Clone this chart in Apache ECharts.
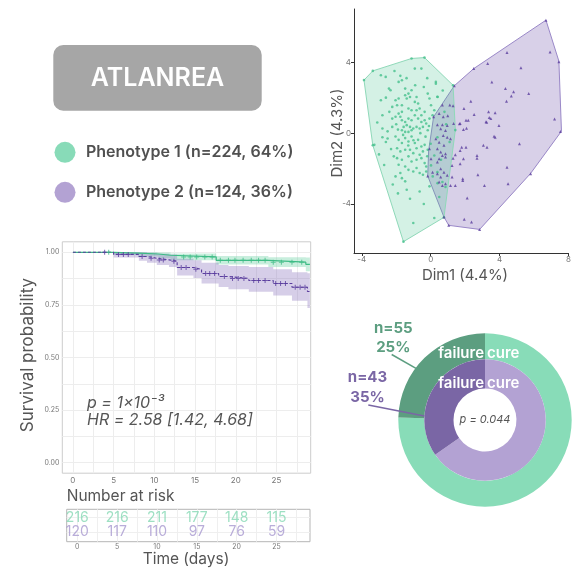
<!DOCTYPE html>
<html><head><meta charset="utf-8">
<script src="https://cdn.jsdelivr.net/npm/echarts@6.0.0/dist/echarts.min.js"></script>
<style>html,body{margin:0;padding:0;background:#fff}#c{width:574px;height:569px}</style>
</head><body><div id="c"></div>
<script>
const FONT = 'Inter, "Noto Sans", sans-serif';
// ---------- header / legend ----------
const titleText = 'ATLANREA';
const groupNames = ['Phenotype 1', 'Phenotype 2'];
const groupN = [224, 124];
const groupPct = [64, 36];
const colLight = ['#88dbb8', '#b3a2d3'];
const colDark = ['#5c9e80', '#7a66a5'];

// ---------- PCA scatter ----------
const pcaXName = 'Dim1 (4.4%)';
const pcaYName = 'Dim2 (4.3%)';
const pcaTicksX = [-4, 0, 4, 8];
const pcaTicksY = [-4, 0, 4];
const pcaGreen = [
 [-2.89,3.26],[-2.61,3.17],[-1.76,3.23],[-1.67,2.98],[-0.92,3.64],[-0.54,3.64],[-1.86,2.89],[-2.42,2.51],[-2.33,2.42],[-1.48,2.51],
 [-1.11,2.42],[-1.29,2.23],[-1.20,2.04],[-1.39,1.95],[-1.48,2.14],[-1.86,1.95],[-2.04,1.85],[-1.95,1.57],[-1.67,1.57],[-2.23,1.48],
 [-0.92,1.76],[-0.73,1.67],[-0.64,1.39],[-0.35,1.20],[-0.17,2.23],[-0.07,1.95],[0.40,2.04],[0.30,2.79],[-2.89,1.85],[-2.80,1.01],
 [-2.23,0.82],[-2.04,0.92],[-1.76,0.92],[-1.67,0.73],[-1.48,0.63],[-1.29,0.82],[-1.11,0.73],[-0.92,1.01],[-0.73,0.82],[-0.54,0.63],
 [-0.35,0.73],[-1.39,0.45],[-1.20,0.35],[-1.57,0.35],[-1.01,0.26],[-1.67,0.16],[-1.48,0.07],[-1.29,0.07],[-1.11,0.16],[-0.82,0.35],
 [-0.64,0.26],[-0.45,0.35],[-0.26,0.54],[-0.17,0.16],[-0.07,0.82],[-2.23,0.35],[-2.80,0.26],[-1.86,1.10],[-1.67,1.20],[-1.29,1.39],
 [-1.11,1.29],[-0.82,1.29],[-0.54,1.01],[0.02,1.57],[0.21,1.29],[-0.82,2.04],
 [-2.80,-0.23],[-3.27,-0.66],[-2.04,-0.19],[-1.86,-0.38],[-1.67,-0.56],[-1.48,-0.28],[-1.29,-0.47],[-1.11,-0.19],[-0.92,-0.56],[-0.73,-0.38],
 [-0.54,-0.75],[-0.35,-0.66],[-1.95,-0.85],[-1.76,-1.03],[-1.48,-0.94],[-1.20,-0.94],[-1.01,-1.13],[-0.82,-0.85],[-0.64,-1.22],[-0.45,-1.03],
 [-0.17,-0.94],[-2.14,-1.31],[-1.95,-1.41],[-1.67,-1.50],[-1.29,-1.31],[-1.11,-1.60],[-0.82,-1.50],[-0.54,-1.41],[-0.35,-1.69],[-1.48,-1.88],
 [-1.29,-2.07],[-1.01,-2.16],[-0.82,-1.97],[-0.64,-2.25],[-0.45,-2.35],[-1.76,-2.25],[-2.04,-2.44],[-1.67,-2.54],[-1.48,-2.72],[-0.26,-2.16],
 [0.12,-2.44],[0.40,-2.82],[-0.07,-3.00],[-1.39,-3.19],[-0.64,-3.29],[-1.01,-5.07],[0.21,-4.79],[-0.26,-1.88],[-1.86,-1.78],
 [0.30,2.89],[0.39,2.05],[0.11,1.01],[0.39,-0.23],[0.21,-1.26],[0.02,-1.82],[0.39,-2.20],[0.68,-2.76],[0.86,-3.04],[0.90,0.50],
 [1.10,-0.50],[0.60,-1.50],[0.80,1.20],
 [-2.50,0.10],[-2.60,-0.50],[-2.30,-0.90],[-2.40,1.20],[-2.60,2.00],[-3.10,0.60],[-3.00,-1.20],[-2.70,-1.80],[-2.20,-2.90],[-1.90,-3.40],
 [-1.20,-3.70],[-0.40,-4.00],[0.50,-3.60],[-0.20,3.10],[-1.40,3.10],[-2.10,3.50],[-0.90,2.70],[-0.40,2.60],[0.70,2.40],[-0.10,0.40],
 [-0.30,-0.20],[0.00,-0.60],[-2.00,0.50],[-2.50,-0.30],[-1.90,0.20],[-1.00,-0.40],[-0.60,0.00],[-1.60,-0.10],[-1.30,-0.70],[-0.20,-1.30],
 [-3.87,2.99],[-3.36,3.51],[-1.11,4.21],[-0.36,4.26],[1.30,2.70],[1.43,0.17],[0.77,-4.75],[-1.58,-6.12],[-3.36,-0.68]
];
const pcaPurple = [
 [6.69,6.37],[6.93,4.58],[7.44,4.02],[4.43,4.54],[3.31,3.92],[2.50,3.64],[1.37,2.67],[5.24,3.68],[3.55,2.89],[4.34,2.52],
 [4.81,2.33],[4.68,2.10],[4.40,1.80],[5.69,2.24],[2.33,1.80],[1.93,1.39],[2.52,1.05],[3.36,1.20],[3.74,1.15],[3.40,0.88],
 [3.49,0.83],[2.05,0.73],[2.18,0.73],[1.71,0.55],[1.33,0.55],[0.68,1.58],[1.11,1.58],[1.30,1.54],[0.49,1.11],[0.99,0.98],
 [0.73,0.92],[7.19,0.79],[3.21,0.64],
 [0.39,0.47],[0.68,0.47],[0.96,0.43],[0.58,0.24],[0.86,0.15],[1.67,0.53],[1.90,0.21],[2.08,0.28],[3.25,0.62],[3.96,0.43],
 [3.68,-0.17],[3.74,-0.23],[5.15,-0.60],[3.06,-0.69],[3.27,-0.79],[1.80,-0.79],[2.05,-0.79],[1.71,-0.98],[1.43,-1.22],[1.30,-1.41],
 [2.69,-1.26],[2.69,-1.41],[1.90,-1.45],[1.71,-1.73],[0.73,-0.13],[0.96,-0.23],[1.15,-0.32],[0.30,-0.32],[0.49,-0.51],[0.77,-0.69],
 [0.39,-0.88],[0.58,-1.07],[0.86,-1.16],[0.68,-1.26],[0.49,-1.45],[0.39,-1.63],[0.86,-1.35],[1.24,-1.82],[0.58,-2.01],[0.77,-2.20],
 [0.39,-2.29],[0.58,-2.48],[0.96,-2.38],[0.49,-2.76],[0.68,-2.95],[0.86,-2.85],[1.15,-2.95],[1.43,-2.95],[1.86,-2.57],[1.86,-2.67],
 [1.24,-2.48],[2.74,-2.35],[3.12,-2.95],[4.43,-1.92],[4.49,-2.85],[5.80,-2.29],[2.12,-3.66],[1.95,-4.86],[2.37,-5.01],[1.05,-5.20],
 [2.84,-5.43],[7.53,0.09],[0.02,-1.45],[0.11,-2.20],[-0.07,-0.88],[0.17,0.92],[-0.17,-2.42],[0.77,-4.73]
];
const hullGreen = [[-3.87,2.99],[-3.36,3.51],[-1.11,4.21],[-0.36,4.26],[1.30,2.70],[1.43,0.17],[0.77,-4.75],[-1.58,-6.12],[-3.36,-0.68]];
const hullPurple = [[6.69,6.37],[7.44,4.06],[7.59,0.11],[5.80,-2.27],[2.84,-5.43],[1.05,-5.20],[0.77,-4.73],[-0.17,-2.42],[-0.12,-1.00],[0.17,0.92],[1.37,2.67],[2.50,3.64]];

// ---------- Kaplan-Meier ----------
const kmXName = 'Time (days)';
const kmYName = 'Survival probability';
const kmTimeTicks = [0, 5, 10, 15, 20, 25];
const kmProbTicks = [0, 0.25, 0.5, 0.75, 1];
const kmTimeGrid = [0, 2.5, 5, 7.5, 10, 12.5, 15, 17.5, 20, 22.5, 25, 27.5];
const kmProbGrid = [0, 0.125, 0.25, 0.375, 0.5, 0.625, 0.75, 0.875, 1];
const kmEnd = 29.1;
const g1Time  = [0, 5.0, 8.0, 10.5, 12.0, 17.6, 24.0, 28.6];
const g1Surv  = [1, 0.996, 0.992, 0.986, 0.978, 0.962, 0.953, 0.943];
const g1Lower = [1, 0.987, 0.980, 0.972, 0.962, 0.942, 0.930, 0.910];
const g1Upper = [1, 1, 1, 0.999, 0.994, 0.983, 0.977, 0.975];
const g2Time  = [0, 5.0, 8.1, 9.1, 10.3, 11.8, 12.8, 14.8, 15.8, 17.9, 19.1, 21.6, 24.6, 26.9, 28.8];
const g2Surv  = [1, 0.990, 0.980, 0.972, 0.964, 0.958, 0.928, 0.919, 0.899, 0.885, 0.876, 0.866, 0.852, 0.834, 0.814];
const g2Lower = [1, 0.975, 0.960, 0.950, 0.940, 0.930, 0.890, 0.878, 0.852, 0.835, 0.825, 0.812, 0.795, 0.770, 0.735];
const g2Upper = [1, 1, 1, 0.998, 0.993, 0.990, 0.970, 0.962, 0.950, 0.940, 0.935, 0.930, 0.920, 0.905, 0.900];
const g1Censor = [4.4, 13.6, 14.4, 15.2, 16.2, 17.1, 18.1, 19.1, 19.9, 20.9, 21.9, 22.8, 23.6, 24.6, 25.6, 26.9, 28.1];
const g2Censor = [3.9, 5.6, 6.2, 6.8, 8.5, 9.6, 10.6, 11.1, 12.4, 13.3, 13.9, 15.1, 16.3, 16.8, 17.4, 18.6, 19.6, 20.3, 21.0, 22.2, 22.8, 23.6, 24.9, 25.5, 26.1, 27.3, 27.9, 28.5];
const pText = 'p = 1×10⁻³';
const hrText = 'HR = 2.58 [1.42, 4.68]';

// ---------- number at risk ----------
const riskTitle = 'Number at risk';
const riskTimes = [0, 5, 10, 15, 20, 25];
const risk1 = [216, 216, 211, 177, 148, 115];
const risk2 = [120, 117, 110, 97, 76, 59];

// ---------- outcome donut ----------
const outcomeNames = ['cure', 'failure'];
const outcome1 = [169, 55];
const outcome2 = [81, 43];
const donutP = 'p = 0.044';

// ---------- helpers ----------
function stepLine(T, S, end) {
  return T.map((t, i) => [t, S[i]]).concat([[end, S[S.length - 1]]]);
}
function stepBand(T, L, U, end) {
  const top = [], bot = [];
  for (let i = 0; i < T.length; i++) {
    const t1 = i + 1 < T.length ? T[i + 1] : end;
    top.push([T[i], U[i]], [t1, U[i]]);
    bot.push([T[i], L[i]], [t1, L[i]]);
  }
  return top.concat(bot.reverse());
}
function survAt(T, S, t) {
  let v = S[0];
  for (let i = 0; i < T.length; i++) if (T[i] <= t) v = S[i];
  return v;
}
function polySeries(pts, xi, fill, stroke, z) {
  return {
    type: 'custom', xAxisIndex: xi, yAxisIndex: xi, silent: true, z: z,
    data: [pts[0]],
    renderItem: function (params, api) {
      return { type: 'polygon', shape: { points: pts.map(p => api.coord(p)) },
        style: { fill: fill, stroke: stroke, lineWidth: stroke ? 1 : 0 } };
    }
  };
}
const plusPath = 'path://M4,0H6V4H10V6H6V10H4V6H0V4H4Z';

const chart = echarts.init(document.getElementById('c'), null, { renderer: 'canvas' });

function txt(x, y, text, font, fill, align, valign, extra) {
  return Object.assign({
    type: 'text', x: x, y: y, z: 100,
    style: { text: text, font: font, fill: fill, align: align, textAlign: align,
      verticalAlign: valign, textVerticalAlign: valign }
  }, extra || {});
}

const pct1 = Math.round(outcome1[1] / (outcome1[0] + outcome1[1]) * 100);
const pct2 = Math.round(outcome2[1] / (outcome2[0] + outcome2[1]) * 100);

const option = {
  animation: false,
  backgroundColor: '#fff',
  textStyle: { fontFamily: FONT },
  grid: [
    { left: 354, top: 9, width: 221, height: 244 },
    { left: 62.3, top: 241.8, width: 248.4, height: 231.4, show: true, borderColor: '#cccccc', borderWidth: 1 },
    { left: 66.7, top: 509.3, width: 243.3, height: 32.4, show: true, borderColor: '#b5b5b5', borderWidth: 1 }
  ],
  xAxis: [
    { type: 'value', gridIndex: 0, min: -4.45, max: 8.0,
      axisLine: { show: true, onZero: false, lineStyle: { color: '#333', width: 1 } },
      axisTick: { show: true, length: 3, customValues: pcaTicksX, lineStyle: { color: '#333' } },
      axisLabel: { customValues: pcaTicksX, fontSize: 8, color: '#777', margin: 3, fontFamily: FONT },
      splitLine: { show: false } },
    { type: 'value', gridIndex: 1, min: -1.3, max: 29.2,
      axisLine: { show: false, onZero: false },
      axisTick: { show: false, customValues: kmTimeGrid },
      axisLabel: { customValues: kmTimeTicks, fontSize: 8, color: '#777', margin: 3, fontFamily: FONT },
      splitLine: { show: true, lineStyle: { color: '#ededed', width: 1 } } },
    { type: 'value', gridIndex: 2, min: -1.33, max: 29.2,
      axisLine: { show: false, onZero: false },
      axisTick: { show: false, customValues: kmTimeGrid },
      axisLabel: { customValues: riskTimes, fontSize: 7, color: '#777', margin: 2, fontFamily: FONT },
      splitLine: { show: true, lineStyle: { color: '#efefef', width: 1 } } }
  ],
  yAxis: [
    { type: 'value', gridIndex: 0, min: -6.76, max: 7.0,
      axisLine: { show: true, onZero: false, lineStyle: { color: '#333', width: 1 } },
      axisTick: { show: true, length: 3, customValues: pcaTicksY, lineStyle: { color: '#333' } },
      axisLabel: { customValues: pcaTicksY, fontSize: 8, color: '#777', margin: 3, fontFamily: FONT },
      splitLine: { show: false } },
    { type: 'value', gridIndex: 1, min: -0.05, max: 1.05,
      axisLine: { show: false, onZero: false },
      axisTick: { show: false, customValues: kmProbGrid },
      axisLabel: { customValues: kmProbTicks, fontSize: 7, color: '#777', margin: 3, fontFamily: FONT,
        formatter: v => v.toFixed(2) },
      splitLine: { show: true, lineStyle: { color: '#ededed', width: 1 } } },
    { type: 'value', gridIndex: 2, min: 0.32, max: 2.59,
      axisLine: { show: false, onZero: false },
      axisTick: { show: false, customValues: [1, 2] },
      axisLabel: { show: false, customValues: [1, 2] },
      splitLine: { show: true, lineStyle: { color: '#efefef', width: 1 } } }
  ],
  series: [
    // PCA hulls
    polySeries(hullPurple, 0, 'rgba(90,60,160,0.24)', '#9a88c8', 1),
    polySeries(hullGreen, 0, 'rgba(60,190,135,0.22)', '#8fd9b9', 1),
    { type: 'scatter', xAxisIndex: 0, yAxisIndex: 0, data: pcaGreen, symbol: 'circle', symbolSize: 2.6,
      itemStyle: { color: '#45c08c' }, silent: true, z: 3 },
    { type: 'scatter', xAxisIndex: 0, yAxisIndex: 0, data: pcaPurple, symbol: 'triangle', symbolSize: 3,
      itemStyle: { color: '#5a3d9e' }, silent: true, z: 4 },
    // KM bands
    polySeries(stepBand(g1Time, g1Lower, g1Upper, kmEnd), 1, 'rgba(110,210,165,0.38)', null, 1),
    polySeries(stepBand(g2Time, g2Lower, g2Upper, kmEnd), 1, 'rgba(130,105,185,0.33)', null, 1),
    { type: 'line', xAxisIndex: 1, yAxisIndex: 1, step: 'end', showSymbol: false, silent: true, z: 3,
      data: stepLine(g1Time, g1Surv, kmEnd), lineStyle: { color: '#3dbb85', width: 1.2 } },
    { type: 'line', xAxisIndex: 1, yAxisIndex: 1, step: 'end', showSymbol: false, silent: true, z: 4,
      data: stepLine(g2Time, g2Surv, kmEnd), lineStyle: { color: '#5a3d9e', width: 1.1, type: [3, 2] } },
    { type: 'scatter', xAxisIndex: 1, yAxisIndex: 1, symbol: plusPath, symbolSize: 5, silent: true, z: 5,
      data: g1Censor.map(t => [t, survAt(g1Time, g1Surv, t)]), itemStyle: { color: '#3dbb85' } },
    { type: 'scatter', xAxisIndex: 1, yAxisIndex: 1, symbol: plusPath, symbolSize: 5, silent: true, z: 5,
      data: g2Censor.map(t => [t, survAt(g2Time, g2Surv, t)]), itemStyle: { color: '#5a3d9e' } },
    // number at risk
    { type: 'scatter', xAxisIndex: 2, yAxisIndex: 2, symbolSize: 0, silent: true, z: 5,
      data: riskTimes.map((t, i) => [t, 2, risk1[i]]),
      label: { show: true, position: 'inside', formatter: p => String(p.value[2]), fontSize: 14,
        color: '#86d8b4', fontFamily: FONT } },
    { type: 'scatter', xAxisIndex: 2, yAxisIndex: 2, symbolSize: 0, silent: true, z: 5,
      data: riskTimes.map((t, i) => [t, 1, risk2[i]]),
      label: { show: true, position: 'inside', formatter: p => String(p.value[2]), fontSize: 14,
        color: '#a898d0', fontFamily: FONT } },
    // donut
    { type: 'pie', center: [485, 420], radius: [60.7, 86.7], startAngle: 90, clockwise: true, silent: true,
      label: { show: false }, labelLine: { show: false }, emphasis: { disabled: true },
      data: outcomeNames.map((n, i) => ({ name: n, value: outcome1[i], itemStyle: { color: i === 0 ? '#88dcb8' : '#5c9e80' } })) },
    { type: 'pie', center: [485, 420], radius: [31.5, 60.7], startAngle: 90, clockwise: true, silent: true,
      label: { show: false }, labelLine: { show: false }, emphasis: { disabled: true },
      data: outcomeNames.map((n, i) => ({ name: n, value: outcome2[i], itemStyle: { color: i === 0 ? '#b3a2d3' : '#7a66a5' } })) }
  ],
  graphic: [
    { type: 'rect', z: 100, shape: { x: 53.3, y: 45, width: 208.4, height: 65.7, r: 10 }, style: { fill: '#a6a6a6' } },
    txt(157.5, 78.5, titleText, '600 25px ' + FONT, '#ffffff', 'center', 'middle'),
    { type: 'circle', z: 100, shape: { cx: 65, cy: 152.3, r: 10.5 }, style: { fill: colLight[0] } },
    { type: 'circle', z: 100, shape: { cx: 65, cy: 192.3, r: 10.5 }, style: { fill: colLight[1] } },
    txt(86, 152.5, groupNames[0] + ' (n=' + groupN[0] + ', ' + groupPct[0] + '%)', '600 16px ' + FONT, '#505050', 'left', 'middle'),
    txt(86, 192.5, groupNames[1] + ' (n=' + groupN[1] + ', ' + groupPct[1] + '%)', '600 16px ' + FONT, '#505050', 'left', 'middle'),
    // PCA axis names
    txt(465, 275, pcaXName, '15px ' + FONT, '#555', 'center', 'middle'),
    txt(337, 133, pcaYName, '15px ' + FONT, '#555', 'center', 'middle', { rotation: Math.PI / 2 }),
    // KM texts
    txt(28, 355, kmYName, '17px ' + FONT, '#555', 'center', 'middle', { rotation: Math.PI / 2 }),
    txt(87, 403, pText, 'italic 16px ' + FONT, '#555', 'left', 'middle'),
    txt(87, 420, hrText, 'italic 16px ' + FONT, '#555', 'left', 'middle'),
    txt(66.7, 496, riskTitle, '15.5px ' + FONT, '#555', 'left', 'middle'),
    txt(186, 559, kmXName, '15.5px ' + FONT, '#555', 'center', 'middle'),
    // donut texts
    txt(484, 353.5, outcomeNames[1], '600 15px ' + FONT, '#ffffff', 'right', 'middle'),
    txt(487, 353.5, outcomeNames[0], '600 15px ' + FONT, '#ffffff', 'left', 'middle'),
    txt(484, 383, outcomeNames[1], '600 15px ' + FONT, '#ffffff', 'right', 'middle'),
    txt(487, 383, outcomeNames[0], '600 15px ' + FONT, '#ffffff', 'left', 'middle'),
    txt(485, 420, donutP, 'italic 11px ' + FONT, '#555', 'center', 'middle'),
    txt(393.3, 328, 'n=' + outcome1[1], '700 15px ' + FONT, colDark[0], 'center', 'middle'),
    txt(393.3, 347, pct1 + '%', '700 15px ' + FONT, colDark[0], 'center', 'middle'),
    txt(367.5, 377, 'n=' + outcome2[1], '700 15px ' + FONT, colDark[1], 'center', 'middle'),
    txt(367.5, 397, pct2 + '%', '700 15px ' + FONT, colDark[1], 'center', 'middle'),
    { type: 'line', z: 100, shape: { x1: 391.7, y1: 354.5, x2: 416, y2: 368.3 }, style: { stroke: colDark[0], lineWidth: 1.5 } },
    { type: 'line', z: 100, shape: { x1: 368.3, y1: 405, x2: 424.3, y2: 416 }, style: { stroke: colDark[1], lineWidth: 1.5 } }
  ]
};
chart.setOption(option);
</script></body></html>
